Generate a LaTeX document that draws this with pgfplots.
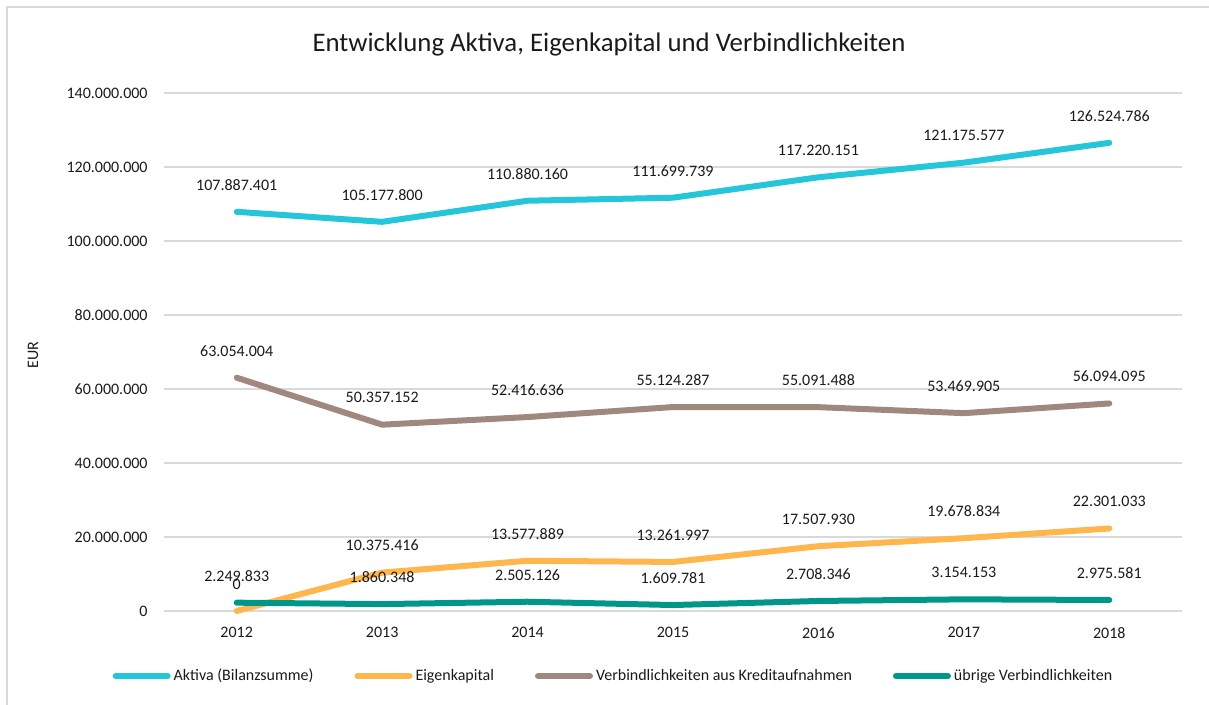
\documentclass[border=0pt]{standalone}
\usepackage{fontspec}
\setmainfont{Carlito}
\usepackage{pgfplots}
\usepackage{pgfplotstable}
\pgfplotsset{compat=1.18}
\definecolor{cAkt}{HTML}{26C6DA}
\definecolor{cEig}{HTML}{FFB74D}
\definecolor{cKre}{HTML}{A1887F}
\definecolor{cUeb}{HTML}{009688}
\definecolor{gridc}{HTML}{D9D9D9}
\definecolor{txt}{HTML}{1A1A1A}

\pgfplotstableread{
x y label
0 107887401 107.887.401
1 105177800 105.177.800
2 110880160 110.880.160
3 111699739 111.699.739
4 117220151 117.220.151
5 121175577 121.175.577
6 126524786 126.524.786
}\aktiva
\pgfplotstableread{
x y label
0 0 0
1 10375416 10.375.416
2 13577889 13.577.889
3 13261997 13.261.997
4 17507930 17.507.930
5 19678834 19.678.834
6 22301033 22.301.033
}\eigen
\pgfplotstableread{
x y label
0 63054004 63.054.004
1 50357152 50.357.152
2 52416636 52.416.636
3 55124287 55.124.287
4 55091488 55.091.488
5 53469905 53.469.905
6 56094095 56.094.095
}\kredit
\pgfplotstableread{
x y label
0 2249833 2.249.833
1 1860348 1.860.348
2 2505126 2.505.126
3 1609781 1.609.781
4 2708346 2.708.346
5 3154153 3.154.153
6 2975581 2.975.581
}\uebrige

\newcommand{\smallf}{\fontsize{8bp}{9.6bp}\selectfont}

\begin{document}
\begin{tikzpicture}
\useasboundingbox (0,0) rectangle (604.5bp,352.5bp);
\draw[gridc, line width=0.75bp] (3.5bp,-5bp) rectangle (615bp,349bp);
\node[txt, font=\fontsize{13.4bp}{15.5bp}\selectfont] at (304.5bp,330bp) {Entwicklung Aktiva, Eigenkapital und Verbindlichkeiten};
\begin{axis}[
  at={(82bp,47bp)}, anchor=south west,
  scale only axis, width=509bp, height=259bp,
  xmin=-0.5, xmax=6.5, ymin=0, ymax=140000000,
  enlargelimits=false, clip=false,
  scaled y ticks=false,
  axis line style={draw=none},
  major tick length=0pt,
  tick style={draw=none},
  xtick={0,1,2,3,4,5,6},
  xticklabels={2012,2013,2014,2015,2016,2017,2018},
  ytick={0,20000000,40000000,60000000,80000000,100000000,120000000,140000000},
  yticklabels={0,20.000.000,40.000.000,60.000.000,80.000.000,100.000.000,120.000.000,140.000.000},
  ymajorgrids, grid style={gridc, line width=0.75bp},
  yticklabel style={inner sep=0pt, font=\smallf, text=txt},
  xticklabel style={inner sep=0pt, font=\smallf, text=txt},
  yticklabel shift=8bp, xticklabel shift=8bp,
  ylabel={EUR},
  ylabel style={at={(axis description cs:-0.1287,0.494)}, anchor=center, font=\smallf, text=txt},
  every axis plot/.append style={line width=3bp, line join=round, line cap=round},
  nodes near coords, point meta=explicit symbolic,
  nodes near coords style={anchor=center, yshift=13.5bp, font=\smallf, text=txt, inner sep=0pt},
  legend columns=4,
  legend style={at={(0.442,-0.1255)}, anchor=center, draw=none, fill=none,
    font=\smallf, text=txt, nodes={inner sep=1.5bp},
    /tikz/every even column/.append style={column sep=19bp}},
  legend image code/.code={\draw[#1, line width=3bp, line cap=round] (0bp,0bp) -- (26bp,0bp);},
]
\addplot[cAkt] table[x=x,y=y,meta=label] {\aktiva};
\addlegendentry{Aktiva (Bilanzsumme)}
\addplot[cEig] table[x=x,y=y,meta=label] {\eigen};
\addlegendentry{Eigenkapital}
\addplot[cKre] table[x=x,y=y,meta=label] {\kredit};
\addlegendentry{Verbindlichkeiten aus Kreditaufnahmen}
\addplot[cUeb] table[x=x,y=y,meta=label] {\uebrige};
\addlegendentry{übrige Verbindlichkeiten}
\end{axis}
\end{tikzpicture}
\end{document}
